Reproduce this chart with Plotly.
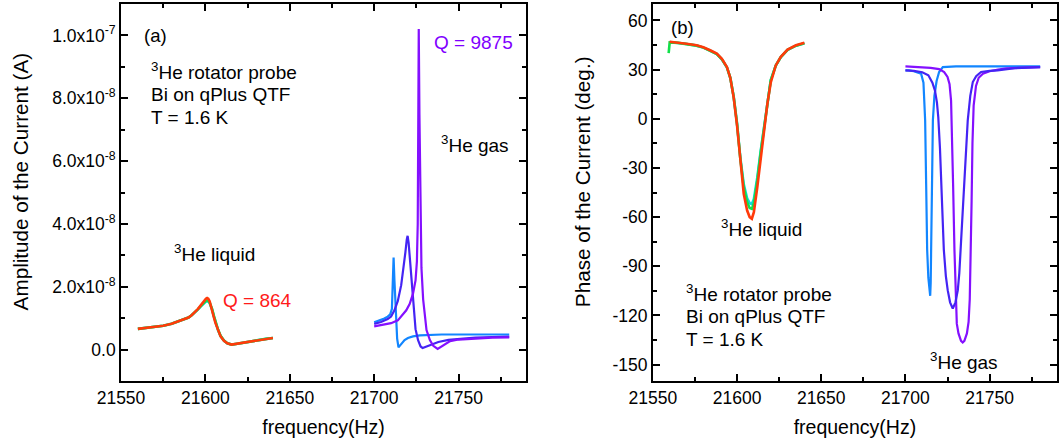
import plotly.graph_objects as go
from plotly.subplots import make_subplots

# ---------------- data ----------------
# amplitudes are in units of 1e-8 A, phases in degrees, frequencies in Hz
AMP_UNIT = 1e-8

# 3He liquid: amplitude
liq_amp_freq = [21560, 21565, 21570, 21575, 21580, 21584, 21587.5, 21590, 21592, 21594,
                21595.5, 21597, 21598.5, 21599.5, 21600.3, 21601, 21601.7, 21602.5, 21603.3,
                21604, 21605, 21606, 21607.5, 21609, 21611, 21613, 21615.5, 21618, 21622,
                21627, 21632, 21636, 21640]
liq_amp_red = [0.66, 0.69, 0.72, 0.76, 0.82, 0.89, 0.96, 1.02, 1.10, 1.20,
               1.29, 1.39, 1.50, 1.57, 1.62, 1.64, 1.62, 1.54, 1.40,
               1.26, 1.03, 0.84, 0.60, 0.42, 0.28, 0.20, 0.16, 0.18, 0.22,
               0.27, 0.31, 0.34, 0.37]
liq_amp_green = [0.66, 0.69, 0.72, 0.76, 0.82, 0.89, 0.96, 1.02, 1.10, 1.19,
                 1.28, 1.37, 1.46, 1.52, 1.55, 1.56, 1.55, 1.50, 1.40,
                 1.29, 1.08, 0.88, 0.63, 0.44, 0.29, 0.20, 0.16, 0.18, 0.22,
                 0.27, 0.31, 0.34, 0.37]
liq_amp_cyan = [0.66, 0.69, 0.72, 0.76, 0.82, 0.89, 0.96, 1.02, 1.10, 1.19,
                1.27, 1.36, 1.45, 1.50, 1.53, 1.54, 1.53, 1.48, 1.38,
                1.27, 1.06, 0.86, 0.62, 0.43, 0.28, 0.20, 0.16, 0.18, 0.22,
                0.27, 0.31, 0.34, 0.37]

# 3He gas: amplitude (three sweeps)
gas1_amp_freq = [21700, 21703, 21706, 21708, 21709.5, 21710.5, 21711.0, 21711.5, 21712.0,
                 21712.8, 21713.6, 21714.4, 21716, 21718, 21720, 21723, 21727, 21732,
                 21740, 21750, 21760, 21770, 21780]
gas1_amp = [0.87, 0.92, 0.99, 1.05, 1.12, 1.30, 1.90, 2.93, 2.20,
            1.00, 0.35, 0.07, 0.18, 0.30, 0.37, 0.42, 0.45, 0.47,
            0.48, 0.48, 0.48, 0.48, 0.48]

gas2_amp_freq = [21700, 21704, 21708, 21710, 21712, 21714, 21716, 21717.5, 21718.5,
                 21719.3, 21719.8, 21720.4, 21721.2, 21722.2, 21723.3, 21724.5, 21726,
                 21727.5, 21728.7, 21730, 21734, 21738, 21744, 21750, 21760, 21770, 21780]
gas2_amp = [0.82, 0.88, 0.97, 1.05, 1.25, 1.55, 2.05, 2.60, 3.10,
            3.50, 3.62, 3.40, 2.85, 2.15, 1.30, 0.65, 0.30,
            0.10, 0.05, 0.08, 0.16, 0.24, 0.31, 0.34, 0.38, 0.40, 0.41]

gas3_amp_freq = [21700, 21705, 21710, 21714, 21719, 21721, 21723, 21724.5, 21725.3,
                 21725.8, 21726.1, 21726.4, 21726.8, 21727.3, 21728, 21729, 21730,
                 21731, 21733, 21735, 21737.6, 21740, 21745, 21750, 21760, 21770, 21780]
gas3_amp = [0.74, 0.78, 0.84, 0.93, 1.25, 1.45, 1.78, 2.20, 2.80,
            4.00, 6.50, 10.20, 7.50, 4.30, 2.60, 1.60, 1.00,
            0.62, 0.30, 0.12, 0.02, 0.10, 0.27, 0.32, 0.36, 0.38, 0.39]

# 3He liquid: phase
liq_ph_freq = [21560, 21565, 21570, 21576, 21580, 21584, 21588, 21591, 21594, 21596,
               21598, 21600, 21602, 21604, 21606, 21607.5, 21608.8, 21610, 21612, 21614,
               21616, 21618, 21620, 21623, 21626, 21630, 21635, 21640]
liq_ph_red = [47.0, 46.5, 45.8, 44.8, 43.6, 41.8, 39.7, 36.5, 31.5, 25.0,
              13.0, -4.0, -27.0, -46.0, -56.0, -60.0, -61.0, -57.0, -42.0, -24.0,
              -8.0, 9.0, 22.0, 32.5, 37.8, 42.2, 44.8, 46.3]
liq_ph_green_freq = [21559.4] + liq_ph_freq
liq_ph_green = [40.0, 46.6, 46.3, 45.6, 44.6, 43.4, 41.6, 39.5, 36.3, 31.3, 25.0,
                13.5, -3.0, -25.0, -42.0, -51.0, -54.5, -55.0, -51.5, -38.0, -21.0,
                -5.0, 11.0, 23.5, 32.5, 37.6, 42.0, 44.6, 46.1]
liq_ph_cyan = [46.8, 46.3, 45.6, 44.6, 43.4, 41.6, 39.5, 36.3, 31.3, 25.0,
               13.5, -3.0, -24.0, -40.0, -48.5, -51.5, -52.0, -49.0, -36.0, -20.0,
               -5.0, 11.0, 23.5, 32.5, 37.6, 42.0, 44.6, 46.1]

# 3He gas: phase
gas1_ph_freq = [21700, 21702, 21705, 21709.3, 21710.7, 21711.7, 21712.3, 21712.9, 21713.6,
                21714.2, 21714.7, 21715.0, 21715.3, 21715.8, 21716.3, 21717.2, 21718.5,
                21720, 21722.2, 21730, 21740, 21750, 21760, 21770, 21780]
gas1_ph = [29.5, 29.5, 29.0, 27.5, 22.0, -1.0, -40.0, -80.0, -97.0,
           -105.0, -108.0, -100.0, -80.0, -40.0, -1.0, 14.0, 23.0,
           28.5, 31.5, 32.0, 32.0, 32.0, 32.0, 32.0, 32.0]

gas2_ph_freq = [21700, 21705, 21710, 21713.6, 21716, 21717.5, 21718.7, 21719.5, 21720.5,
                21721.7, 21722.8, 21724, 21725.1, 21726.5, 21728.1, 21729.7, 21731.1,
                21732, 21732.7, 21733.8, 21735, 21736, 21737, 21738.5, 21740, 21742,
                21744.9, 21750, 21754.7, 21765, 21780]
gas2_ph = [29.5, 29.2, 28.4, 26.5, 22.0, 17.3, 10.0, 1.0, -18.0,
           -48.0, -80.0, -96.0, -104.6, -112.0, -115.8, -112.0, -104.6,
           -94.0, -80.0, -58.0, -36.0, -18.0, -1.0, 14.0, 22.4, 26.0,
           28.5, 29.2, 29.5, 30.8, 31.5]

gas3_ph_freq = [21700, 21705, 21710, 21715, 21720, 21723, 21725, 21726.2, 21727.1,
                21727.6, 21728.3, 21729.1, 21729.7, 21730.5, 21731.5, 21733, 21734,
                21735, 21736.5, 21737.5, 21738.2, 21738.9, 21739.3, 21739.8, 21740.5,
                21741.9, 21743.5, 21746, 21750, 21755, 21760, 21770, 21780]
gas3_ph = [32.0, 31.8, 31.5, 31.0, 30.3, 28.5, 25.5, 21.0, 11.0,
           -5.0, -40.0, -80.0, -108.0, -125.0, -131.0, -135.5, -136.5,
           -135.5, -131.0, -124.0, -110.0, -80.0, -50.0, -15.0, 8.0,
           20.0, 25.0, 27.5, 29.0, 30.0, 30.7, 31.2, 31.5]

# axis ticks
freq_ticks = [21550, 21600, 21650, 21700, 21750]
freq_ticktext = ["21550", "21600", "21650", "21700", "21750"]
amp_ticks = [0, 2e-8, 4e-8, 6e-8, 8e-8, 1e-7]
amp_ticktext = ["0.0", "2.0x10<sup>-8</sup>", "4.0x10<sup>-8</sup>", "6.0x10<sup>-8</sup>",
                "8.0x10<sup>-8</sup>", "1.0x10<sup>-7</sup>"]
phase_ticks = [-150, -120, -90, -60, -30, 0, 30, 60]
phase_ticktext = ["-150", "-120", "-90", "-60", "-30", "0", "30", "60"]

# ---------------- styling ----------------
FONT = "Liberation Sans, Arial, sans-serif"
C_RED = "#FF3A0A"
C_GREEN = "#12E04A"
C_CYAN = "#10D8E0"
C_AZURE = "#1286FF"
C_BLUE = "#4424F4"
C_VIOLET = "#8410FF"
LW_LIQ = 2.6
LW_GAS = 2.2

fig = make_subplots(rows=1, cols=2, horizontal_spacing=0.0)


def add_line(x, y, color, col, width, scale=1.0):
    fig.add_trace(
        go.Scatter(x=x, y=[v * scale for v in y], mode="lines",
                   line=dict(color=color, width=width), showlegend=False,
                   hoverinfo="skip"),
        row=1, col=col)


# panel (a): amplitude
add_line(liq_amp_freq, liq_amp_cyan, C_CYAN, 1, LW_LIQ, AMP_UNIT)
add_line(liq_amp_freq, liq_amp_green, C_GREEN, 1, LW_LIQ, AMP_UNIT)
add_line(liq_amp_freq, liq_amp_red, C_RED, 1, LW_LIQ, AMP_UNIT)
add_line(gas1_amp_freq, gas1_amp, C_AZURE, 1, LW_GAS, AMP_UNIT)
add_line(gas2_amp_freq, gas2_amp, C_BLUE, 1, LW_GAS, AMP_UNIT)
add_line(gas3_amp_freq, gas3_amp, C_VIOLET, 1, LW_GAS, AMP_UNIT)

# panel (b): phase
add_line(liq_ph_freq, liq_ph_cyan, C_CYAN, 2, LW_LIQ)
add_line(liq_ph_green_freq, liq_ph_green, C_GREEN, 2, LW_LIQ)
add_line(liq_ph_freq, liq_ph_red, C_RED, 2, LW_LIQ)
add_line(gas1_ph_freq, gas1_ph, C_AZURE, 2, LW_GAS)
add_line(gas3_ph_freq, gas3_ph, C_VIOLET, 2, LW_GAS)
add_line(gas2_ph_freq, gas2_ph, C_BLUE, 2, LW_GAS)

axis_common = dict(
    showline=True, linecolor="black", linewidth=1.6, mirror="ticks",
    ticks="inside", ticklen=7, tickwidth=1.5, tickcolor="black",
    showgrid=False, zeroline=False,
    tickfont=dict(family=FONT, size=17.5, color="black"),
)
minor_common = dict(ticks="inside", ticklen=4, tickwidth=1.5, tickcolor="black")

xaxis_common = dict(axis_common, range=[21550, 21790], tickmode="array",
                    tickvals=freq_ticks, ticktext=freq_ticktext,
                    minor=dict(minor_common, dtick=25, tick0=21550),
                    title=dict(text="frequency(Hz)", standoff=14,
                               font=dict(family=FONT, size=19.5, color="black")))

fig.update_layout(
    width=1061, height=444,
    margin=dict(l=121, r=2, t=4, b=63),
    paper_bgcolor="white", plot_bgcolor="white",
    font=dict(family=FONT, color="black"),
    xaxis=dict(xaxis_common, domain=[0.0, 0.4328]),
    xaxis2=dict(xaxis_common, domain=[0.5682, 1.0]),
    yaxis=dict(axis_common, range=[-1e-8, 1.1e-7], tickmode="array",
               tickvals=amp_ticks, ticktext=amp_ticktext,
               minor=dict(minor_common, dtick=1e-8, tick0=0)),
    yaxis2=dict(axis_common, range=[-160, 70], tickmode="array",
                tickvals=phase_ticks, ticktext=phase_ticktext,
                minor=dict(minor_common, dtick=15, tick0=0)),
)

# vertical axis titles, set slightly above the middle of each frame
for text, xpos in [("Amplitude of the Current (A)", -0.1077),
                   ("Phase of the Current (deg.)", 0.4925)]:
    fig.add_annotation(text=text, x=xpos, y=0.53, xref="paper", yref="paper",
                       xanchor="center", yanchor="middle", textangle=-90,
                       showarrow=False,
                       font=dict(family=FONT, size=20.7, color="black"))

# text labels: (text, x, y, axis suffix, colour, size)
labels = [
    ("(a)", 21562.4, 10.0e-8, "", "black", 18.5),
    ("<sup>3</sup>He rotator probe", 21566.5, 8.86e-8, "", "black", 19),
    ("Bi on qPlus QTF", 21566.5, 8.12e-8, "", "black", 19),
    ("T = 1.6 K", 21566.5, 7.40e-8, "", "black", 19),
    ("<sup>3</sup>He gas", 21738.2, 6.53e-8, "", "black", 19),
    ("<sup>3</sup>He liquid", 21580.1, 3.07e-8, "", "black", 19),
    ("Q = 864", 21609.4, 1.56e-8, "", "#FF1A1A", 19),
    ("Q = 9875", 21734.5, 9.76e-8, "", "#8000FF", 19),
    ("(b)", 21559.8, 55.9, "2", "black", 18.5),
    ("<sup>3</sup>He liquid", 21589.1, -66.7, "2", "black", 19),
    ("<sup>3</sup>He rotator probe", 21568.6, -106.3, "2", "black", 19),
    ("Bi on qPlus QTF", 21568.6, -120.5, "2", "black", 19),
    ("T = 1.6 K", 21568.6, -134.8, "2", "black", 19),
    ("<sup>3</sup>He gas", 21713.4, -147.8, "2", "black", 19),
]
for text, x, y, ax, color, size in labels:
    fig.add_annotation(text=text, x=x, y=y, xref="x" + ax, yref="y" + ax,
                       xanchor="left", yanchor="middle", showarrow=False,
                       font=dict(family=FONT, size=size, color=color))

fig.write_html("out.html")
